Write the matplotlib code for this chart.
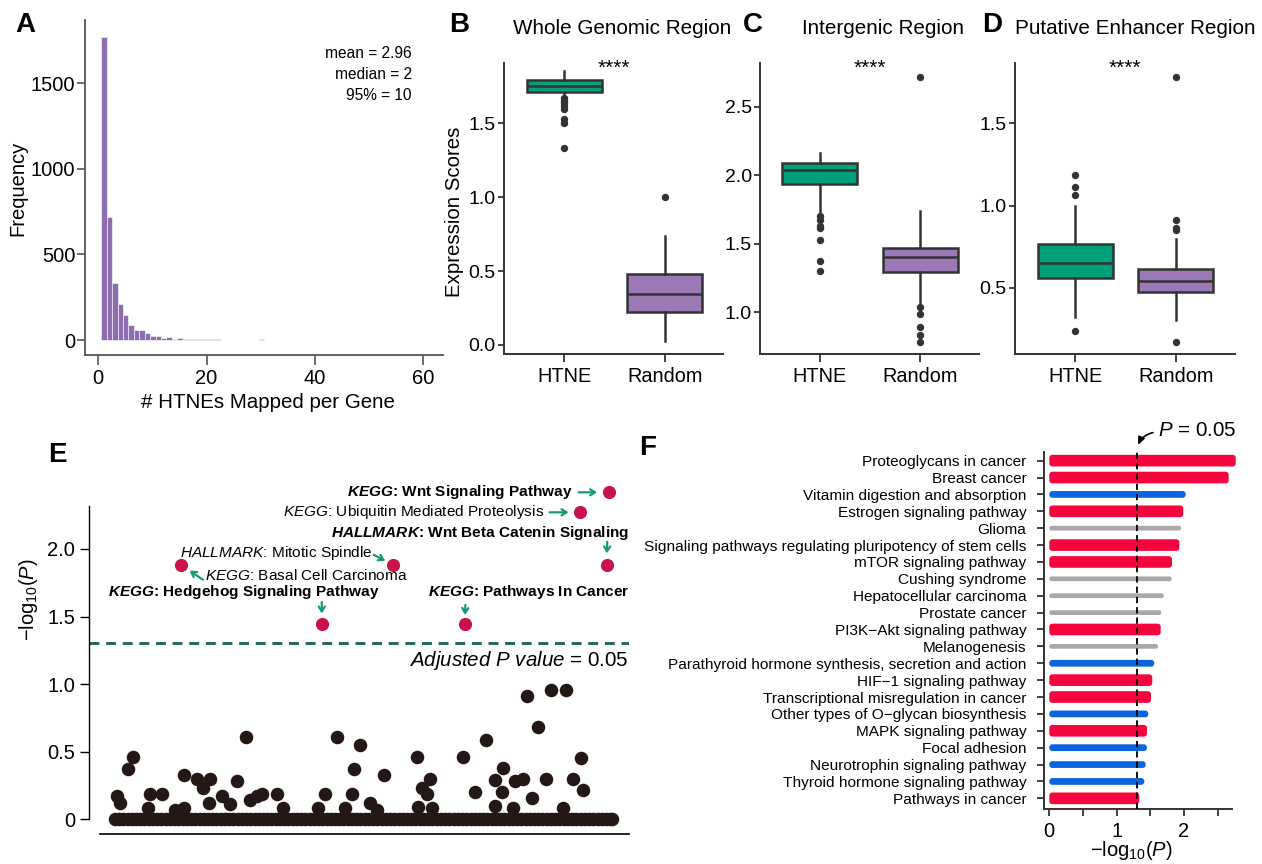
import numpy as np
import matplotlib
matplotlib.use('Agg')
import matplotlib.pyplot as plt
from matplotlib.patches import FancyBboxPatch

plt.rcParams['font.family'] = ['Liberation Sans', 'DejaVu Sans']
plt.rcParams['mathtext.fontset'] = 'custom'
plt.rcParams['mathtext.rm'] = 'Liberation Sans'
plt.rcParams['mathtext.it'] = 'Liberation Sans:italic'
plt.rcParams['mathtext.bf'] = 'Liberation Sans:bold'
plt.rcParams['mathtext.bfit'] = 'Liberation Sans:italic:bold'

# ---- A: HTNEs per gene ----
hist_bins = list(range(1, 31))
hist_counts = [1769, 717, 333, 213, 145, 87, 58, 58, 39, 25,
               25, 10, 15, 8, 13, 8, 6, 6, 6, 4,
               3, 3, 0, 0, 0, 0, 0, 0, 0, 3]
hist_stats = ['mean = 2.96', 'median = 2', '95% = 10']

# ---- B-D: expression score boxplots (HTNE, Random) ----
groups = ['HTNE', 'Random']
whole_q1 = [1.714, 0.225]
whole_med = [1.752, 0.345]
whole_q3 = [1.793, 0.478]
whole_lo = [1.68, 0.029]
whole_hi = [1.854, 0.737]
whole_out = [[1.668, 1.65, 1.635, 1.62, 1.60, 1.53, 1.50, 1.335], [1.0]]

inter_q1 = [1.937, 1.293]
inter_med = [2.036, 1.402]
inter_q3 = [2.09, 1.471]
inter_lo = [1.726, 1.053]
inter_hi = [2.163, 1.738]
inter_out = [[1.706, 1.677, 1.633, 1.616, 1.526, 1.372, 1.30],
             [2.72, 1.037, 0.989, 0.891, 0.831, 0.782]]

enh_q1 = [0.561, 0.474]
enh_med = [0.648, 0.541]
enh_q3 = [0.764, 0.616]
enh_lo = [0.324, 0.304]
enh_hi = [1.0, 0.794]
enh_out = [[1.186, 1.114, 1.064, 0.238], [1.784, 0.912, 0.861, 0.851, 0.171]]

# ---- E: gene set enrichment, -log10(P) ----
e_zero_x = [2.8, 3.6, 4.4, 5.2, 6.0, 6.8, 7.6, 8.4, 9.2, 10.0, 10.8, 11.6, 12.4,
            13.2, 14.0, 14.8, 15.6, 16.4, 17.2, 18.0, 18.8, 19.6, 20.4, 21.2,
            22.0, 22.8, 23.6, 24.4, 25.2, 26.0, 26.8, 27.6, 28.4, 29.2, 30.0,
            30.8, 31.6, 32.4, 33.2, 34.0, 34.8, 35.6, 36.4, 37.2, 38.0, 38.8,
            39.6, 40.4, 41.2, 42.0, 42.8, 43.6, 44.4, 45.2, 46.0, 46.8, 47.6,
            48.4, 49.2, 50.0, 50.8, 51.6, 52.4, 53.2, 54.0, 54.8, 55.6, 56.4,
            57.2, 58.0, 58.8, 59.6, 60.4, 61.2, 62.0, 62.8, 63.6, 64.4, 65.2,
            66.0, 66.8, 67.6, 68.4, 69.2, 70.0, 70.8, 71.6, 72.4, 73.2, 74.0,
            74.8, 75.6, 76.4, 77.2, 78.0, 78.8, 79.6, 80.4, 81.2, 82.0, 82.8,
            83.6, 84.4, 85.2, 86.0, 86.8, 87.6, 88.4, 89.2, 90.0, 90.8, 91.6,
            92.4, 93.2, 94.0, 94.8, 95.6, 96.4, 96.7]
e_dot_x = [3.3, 3.8, 5.3, 6.3, 9.1, 9.4, 11.7, 14.2, 15.9, 15.9, 18.3, 19.5,
           20.8, 20.5, 23.0, 24.6, 25.8, 27.5, 28.3, 29.6, 30.7, 33.4, 34.6,
           41.2, 42.5, 44.7, 46.3, 47.7, 47.9, 49.1, 51.0, 52.3, 53.7, 59.9,
           60.8, 62.3, 61.7, 60.1, 62.7, 68.6, 70.8, 72.9, 74.6, 76.2, 75.9,
           74.6, 78.4, 80.0, 78.1, 80.6, 82.7, 81.6, 84.3, 85.3, 88.0, 87.5,
           89.4, 90.9, 91.3]
e_dot_y = [0.17, 0.12, 0.37, 0.46, 0.08, 0.19, 0.19, 0.07, 0.33, 0.08, 0.30, 0.23,
           0.30, 0.12, 0.17, 0.11, 0.28, 0.61, 0.14, 0.17, 0.19, 0.19, 0.08,
           0.08, 0.19, 0.61, 0.08, 0.19, 0.37, 0.55, 0.12, 0.07, 0.33, 0.46,
           0.23, 0.30, 0.19, 0.09, 0.08, 0.46, 0.20, 0.59, 0.29, 0.38, 0.20,
           0.10, 0.28, 0.30, 0.08, 0.91, 0.68, 0.16, 0.30, 0.96, 0.96, 0.08,
           0.30, 0.45, 0.22]
e_sig_x = [15.3, 41.9, 55.3, 68.9, 90.6, 95.7, 96.1]
e_sig_y = [1.883, 1.445, 1.883, 1.445, 2.271, 1.883, 2.419]
e_sig_label = [r'$\mathit{KEGG}$: Basal Cell Carcinoma',
               r'$\mathbfit{KEGG}$: Hedgehog Signaling Pathway',
               r'$\mathit{HALLMARK}$: Mitotic Spindle',
               r'$\mathbfit{KEGG}$: Pathways In Cancer',
               r'$\mathit{KEGG}$: Ubiquitin Mediated Proteolysis',
               r'$\mathbfit{HALLMARK}$: Wnt Beta Catenin Signaling',
               r'$\mathbfit{KEGG}$: Wnt Signaling Pathway']
e_sig_bold = [False, True, False, True, False, True, True]
e_cutoff = 1.301

# ---- F: KEGG pathways ----
path_names = ['Proteoglycans in cancer', 'Breast cancer',
              'Vitamin digestion and absorption', 'Estrogen signaling pathway',
              'Glioma', 'Signaling pathways regulating pluripotency of stem cells',
              'mTOR signaling pathway', 'Cushing syndrome',
              'Hepatocellular carcinoma', 'Prostate cancer',
              'PI3K\u2212Akt signaling pathway', 'Melanogenesis',
              'Parathyroid hormone synthesis, secretion and action',
              'HIF\u22121 signaling pathway', 'Transcriptional misregulation in cancer',
              'Other types of O\u2212glycan biosynthesis', 'MAPK signaling pathway',
              'Focal adhesion', 'Neurotrophin signaling pathway',
              'Thyroid hormone signaling pathway', 'Pathways in cancer']
path_score = [2.77, 2.665, 2.027, 1.99, 1.957, 1.932, 1.823, 1.818, 1.70, 1.664,
              1.655, 1.615, 1.56, 1.53, 1.511, 1.471, 1.452, 1.45, 1.432, 1.412, 1.337]
path_group = ['red', 'red', 'blue', 'red', 'gray', 'red', 'red', 'gray', 'gray',
              'gray', 'red', 'gray', 'blue', 'red', 'red', 'blue', 'red', 'blue',
              'blue', 'blue', 'red']
f_cutoff = 1.301

W, H = 1262, 864
fig = plt.figure(figsize=(W / 100, H / 100), dpi=100)


def frame(l, t, r, b):
    return [l / W, 1 - b / H, (r - l) / W, (b - t) / H]


def ftext(x, y, s, **kw):
    return fig.text(x / W, 1 - y / H, s, **kw)


dark = '#333333'
green = '#00a07a'
purple = '#9b79b6'
teal = '#17987a'

# ---------------- A ----------------
ax = fig.add_axes(frame(85, 20, 443, 355))
ax.bar(np.array(hist_bins) - 0.4, hist_counts, width=1, align='edge',
       color='#8e6cb0', edgecolor='white', linewidth=0.4)
ax.set_xlim(-2.4, 63.6)
ax.set_ylim(-87.5, 1868)
ax.set_xticks([0, 20, 40, 60])
ax.set_yticks([0, 500, 1000, 1500])
for s in ['top', 'right']:
    ax.spines[s].set_visible(False)
for s in ['left', 'bottom']:
    ax.spines[s].set_color('#555555')
    ax.spines[s].set_linewidth(1.3)
ax.tick_params(axis='y', length=6, width=1.2, color='#555555', labelsize=14.5, pad=1)
ax.tick_params(axis='x', length=7, width=1.2, color='#555555', labelsize=14.5, pad=3)
for i, s in enumerate(hist_stats):
    ftext(412, 53 + 21.5 * i, s, fontsize=11.2, ha='right', va='center')
ftext(17.5, 188, 'Frequency', fontsize=14.5, rotation=90, ha='center', va='center')
ftext(268, 403, '# HTNEs Mapped per Gene', fontsize=14.8, ha='center', va='center')

# ---------------- B-D ----------------
def draw_box(rect, q1, med, q3, lo, hi, out, xlim, ylim, yticks, yticklabels):
    ax = fig.add_axes(rect)
    stats = [dict(q1=q1[i], med=med[i], q3=q3[i], whislo=lo[i], whishi=hi[i],
                  fliers=out[i]) for i in range(2)]
    parts = ax.bxp(stats, positions=[1, 2], widths=0.75, patch_artist=True,
                   showcaps=False,
                   boxprops=dict(edgecolor=dark, linewidth=1.8),
                   medianprops=dict(color=dark, linewidth=1.8),
                   whiskerprops=dict(color=dark, linewidth=1.8),
                   flierprops=dict(marker='o', markerfacecolor=dark,
                                   markeredgecolor=dark, markersize=4.3))
    for patch, c in zip(parts['boxes'], [green, purple]):
        patch.set_facecolor(c)
    ax.set_xlim(*xlim)
    ax.set_ylim(*ylim)
    ax.set_xticks([1, 2])
    ax.set_xticklabels(groups)
    ax.set_yticks(yticks)
    ax.set_yticklabels(yticklabels)
    for s in ['top', 'right']:
        ax.spines[s].set_visible(False)
    for s in ['left', 'bottom']:
        ax.spines[s].set_color(dark)
        ax.spines[s].set_linewidth(1.4)
    ax.tick_params(axis='y', length=4, width=1.3, color=dark, labelsize=14, pad=2)
    ax.tick_params(axis='x', length=5.5, width=1.3, color=dark, labelsize=14.3, pad=4)
    ax.text(0.5, 0.962, '****', transform=ax.transAxes, ha='center',
            va='baseline', fontsize=15)
    return ax


draw_box(frame(504, 63, 723, 354), whole_q1, whole_med, whole_q3, whole_lo,
         whole_hi, whole_out, (0.4, 2.58), (-0.061, 1.908),
         [0, 0.5, 1.0, 1.5], ['0.0', '0.5', '1.0', '1.5'])
draw_box(frame(760, 63, 979, 354), inter_q1, inter_med, inter_q3, inter_lo,
         inter_hi, inter_out, (0.41, 2.58), (0.696, 2.819),
         [1.0, 1.5, 2.0, 2.5], ['1.0', '1.5', '2.0', '2.5'])
draw_box(frame(1015, 63, 1235, 354), enh_q1, enh_med, enh_q3, enh_lo,
         enh_hi, enh_out, (0.4, 2.59), (0.097, 1.867),
         [0.5, 1.0, 1.5], ['0.5', '1.0', '1.5'])
ftext(454, 212, 'Expression Scores', fontsize=14.7, rotation=90, ha='center', va='center')
ftext(622.5, 29, 'Whole Genomic Region', fontsize=14.9, ha='center', va='center')
ftext(882.6, 29, 'Intergenic Region', fontsize=14.9, ha='center', va='center')
ftext(1135, 29, 'Putative Enhancer Region', fontsize=14.9, ha='center', va='center')

# ---------------- E ----------------
ax = fig.add_axes(frame(89.3, 505.7, 629.3, 834))
ax.scatter(e_zero_x, [0] * len(e_zero_x), s=95, color='#231815', lw=0, clip_on=False)
ax.scatter(e_dot_x, e_dot_y, s=95, color='#231815', lw=0, clip_on=False)
ax.scatter(e_sig_x, e_sig_y, s=90, color='#c8124a', lw=0, clip_on=False, zorder=4)
ax.axhline(e_cutoff, color='#1f6b4b', lw=2.1, dashes=(3.4, 2.3))
ax.set_xlim(-2.02, 100)
ax.set_ylim(-0.109, 2.32)
ax.set_xticks([])
ax.set_yticks([0, 0.5, 1.0, 1.5, 2.0])
ax.set_yticklabels(['0', '0.5', '1.0', '1.5', '2.0'])
for s in ['top', 'right']:
    ax.spines[s].set_visible(False)
ax.spines['left'].set_bounds(0, 2.32)
ax.spines['left'].set_linewidth(1.0)
ax.spines['bottom'].set_bounds(0, 100)
ax.spines['bottom'].set_linewidth(1.2)
ax.tick_params(axis='y', length=6.7, width=1.0, labelsize=14.5, pad=3.6)

# arrow tails (px offset from the dot, y down) and head gap (px)
arrow_tail = [(22, 15), (0, -22), (-19, -10), (0.7, -19), (-30, 0), (0.7, -23), (-30, 0)]
arrow_gap = [10.5, 10.5, 8.5, 9, 11, 11.4, 11.6]
label_pos = [(205, 575, 'left'), (108.3, 592, 'left'), (180, 552.7, 'left'),
             (629.3, 591.7, 'right'), (544, 511.7, 'right'),
             (629.3, 533.3, 'right'), (572.7, 491.7, 'right')]
for x, y, (dx, dy), gap, lab, bold, (lx, ly, ha) in zip(
        e_sig_x, e_sig_y, arrow_tail, arrow_gap, e_sig_label, e_sig_bold, label_pos):
    ax.annotate('', xy=(x, y), xytext=(dx * 0.72, -dy * 0.72),
                textcoords='offset points', annotation_clip=False,
                arrowprops=dict(arrowstyle='->,head_length=0.35,head_width=0.22',
                                color=teal, lw=1.6, shrinkA=0, shrinkB=gap * 0.72))
    ftext(lx, ly, lab, fontsize=11.1, ha=ha, va='center',
          weight='bold' if bold else 'normal')
ftext(628.3, 660, r'$\mathit{Adjusted\ P\ value}$ = 0.05', fontsize=14.8,
      ha='right', va='center')
ftext(28, 600, r'$-\mathrm{log}_{10}(\mathit{P})$', fontsize=14.5, rotation=90,
      ha='center', va='center')

# ---------------- F ----------------
ax = fig.add_axes(frame(1044.3, 451.7, 1231.7, 809.3))
bar_color = {'red': '#f5053d', 'blue': '#0a64e0', 'gray': '#a9a9a9'}
bar_height = {'red': 0.69, 'blue': 0.40, 'gray': 0.28}
aspect = 4.0
ypos = np.arange(len(path_names))[::-1] + 1
for yv, val, grp in zip(ypos, path_score, path_group):
    h = bar_height[grp]
    r = min(0.05, 0.45 * h / aspect)
    ax.add_patch(FancyBboxPatch((0, yv - h / 2), val, h,
                                boxstyle='round,pad=0,rounding_size=%.4f' % r,
                                mutation_aspect=aspect, facecolor=bar_color[grp],
                                edgecolor='none', clip_on=False))
ax.axvline(f_cutoff, color='black', lw=1.3, dashes=(3.5, 2.2), zorder=5)
ax.set_xlim(-0.074, 2.71)
ax.set_ylim(0.35, 21.53)
ax.set_yticks(ypos)
ax.set_yticklabels(path_names)
ax.set_xticks([0, 1, 2])
ax.set_xticks([0.5, 1.5, 2.5], minor=True)
for s in ['top', 'right']:
    ax.spines[s].set_visible(False)
for s in ['left', 'bottom']:
    ax.spines[s].set_color(dark)
    ax.spines[s].set_linewidth(1.4)
ax.tick_params(axis='y', length=4.8, width=1.3, color=dark, labelsize=11.1, pad=8)
ax.tick_params(axis='x', which='both', length=5.3, width=1.3, color=dark,
               labelsize=14.5, pad=3.5)
ax.annotate('', xy=(1.32, 21.93), xytext=(1.54, 22.66), annotation_clip=False,
            arrowprops=dict(arrowstyle='-|>,head_length=0.45,head_width=0.2',
                            color='black', lw=1.2, shrinkA=0, shrinkB=0,
                            connectionstyle='arc3,rad=0.25'))
ftext(1158, 430.7, r'$\mathit{P}$ = 0.05', fontsize=14.8, ha='left', va='center')
ftext(1131.7, 850, r'$-\mathrm{log}_{10}(\mathit{P})$', fontsize=14.5,
      ha='center', va='center')

# panel letters
for lx, ly, letter in [(25, 25, 'A'), (459, 25, 'B'), (752.7, 25, 'C'),
                       (991.7, 25, 'D'), (57, 455, 'E'), (648, 448, 'F')]:
    ftext(lx, ly, letter, fontsize=20, weight='bold', ha='center', va='center')

fig.savefig('out.png', dpi=100)
